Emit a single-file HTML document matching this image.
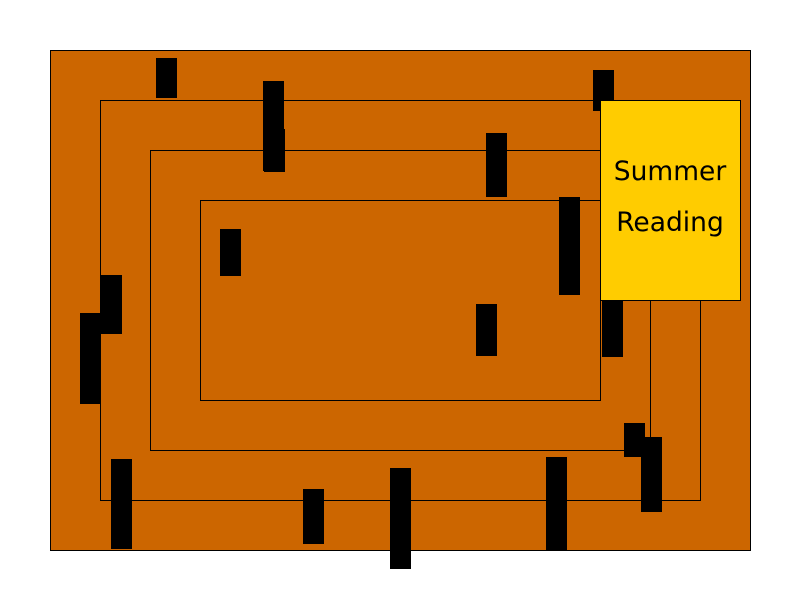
<!DOCTYPE html>
<html><head><style>
body{margin:0;width:800px;height:600px;background:#fff;overflow:hidden}
</style></head><body>
<svg width="800" height="600" xmlns="http://www.w3.org/2000/svg">
<rect x="50.5" y="50.5" width="700" height="500" fill="#CC6600" stroke="#000"/>
<rect x="100.5" y="100.5" width="600" height="400" fill="none" stroke="#000"/>
<rect x="150.5" y="150.5" width="500" height="300" fill="none" stroke="#000"/>
<rect x="200.5" y="200.5" width="400" height="200" fill="none" stroke="#000"/>
<g fill="#000">
<rect x="156" y="58" width="21" height="40"/>
<rect x="263" y="81" width="21" height="90"/>
<rect x="264" y="129" width="21" height="43"/>
<rect x="593" y="70" width="21" height="41"/>
<rect x="486" y="133" width="21" height="64"/>
<rect x="559" y="197" width="21" height="98"/>
<rect x="220" y="229" width="21" height="47"/>
<rect x="476" y="304" width="21" height="52"/>
<rect x="602" y="298" width="21" height="59"/>
<rect x="100" y="275" width="22" height="59"/>
<rect x="80" y="313" width="21" height="91"/>
<rect x="111" y="459" width="21" height="90"/>
<rect x="303" y="489" width="21" height="55"/>
<rect x="390" y="468" width="21" height="101"/>
<rect x="546" y="457" width="21" height="93"/>
<rect x="624" y="423" width="21" height="34"/>
<rect x="641" y="437" width="21" height="75"/>
</g>
<rect x="600.5" y="100.5" width="140" height="200" fill="#FFCC00" stroke="#000"/>
<text x="670" y="180" font-family="DejaVu Sans, sans-serif" font-size="26.5" text-anchor="middle" fill="#000">Summer</text>
<text x="670" y="231" font-family="DejaVu Sans, sans-serif" font-size="26.5" text-anchor="middle" fill="#000">Reading</text>
</svg>
</body></html>
